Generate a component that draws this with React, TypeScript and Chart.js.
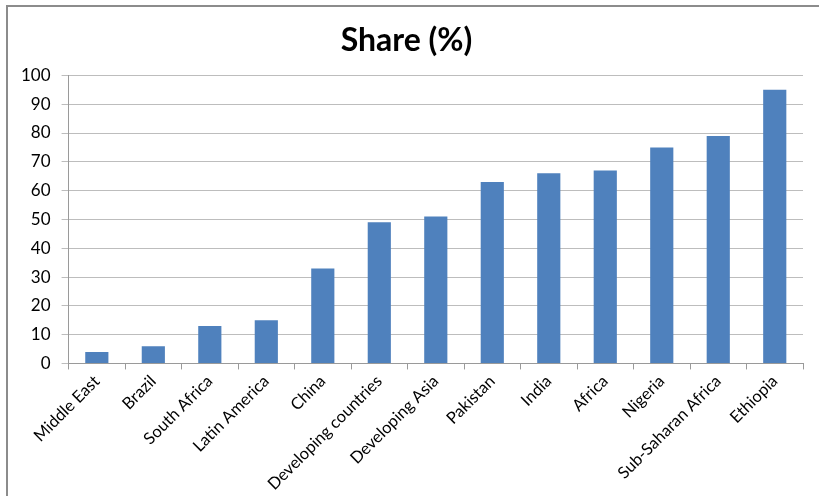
import React, { useEffect, useRef } from "react";
import { Chart, registerables } from "chart.js";

Chart.register(...registerables);

const categories: string[] = [
  "Middle East",
  "Brazil",
  "South Africa",
  "Latin America",
  "China",
  "Developing countries",
  "Developing Asia",
  "Pakistan",
  "India",
  "Africa",
  "Nigeria",
  "Sub-Saharan Africa",
  "Ethiopia",
];

const shareValues: number[] = [4, 6, 13, 15, 33, 49, 51, 63, 66, 67, 75, 79, 95];

const chartTitle = "Share (%)";
const yMin = 0;
const yMax = 100;
const yStep = 10;

const FONT = "Lato, 'Open Sans', sans-serif";

export default function App() {
  const canvasRef = useRef<HTMLCanvasElement | null>(null);

  useEffect(() => {
    document.body.style.margin = "0";
    const ctx = canvasRef.current;
    if (!ctx) return;
    const chart = new Chart(ctx, {
      type: "bar",
      data: {
        labels: categories,
        datasets: [
          {
            label: chartTitle,
            data: shareValues,
            backgroundColor: "#4F81BD",
            borderWidth: 0,
            categoryPercentage: 1,
            barPercentage: 0.41,
          },
        ],
      },
      options: {
        animation: false,
        responsive: false,
        maintainAspectRatio: false,
        layout: { padding: { left: 10, right: 16, top: 12, bottom: 0 } },
        plugins: {
          legend: { display: false },
          tooltip: { enabled: false },
          title: {
            display: true,
            text: chartTitle,
            color: "#000",
            font: { family: FONT, size: 32, weight: "bold" },
            padding: { top: 9, bottom: 16 },
          },
        },
        scales: {
          x: {
            grid: {
              display: true,
              drawOnChartArea: false,
              drawTicks: true,
              tickLength: 6,
              color: "#9a9a9a",
              offset: true,
            },
            border: { display: true, color: "#9a9a9a", width: 1 },
            ticks: {
              color: "#000",
              font: { family: FONT, size: 16.5 },
              maxRotation: 45,
              minRotation: 45,
              autoSkip: false,
              padding: 2,
            },
          },
          y: {
            min: yMin,
            max: yMax,
            grid: {
              color: "#bdbdbd",
              lineWidth: 1,
              drawTicks: true,
              tickLength: 7,
            },
            border: { display: true, color: "#9a9a9a", width: 1 },
            ticks: {
              stepSize: yStep,
              color: "#000",
              font: { family: FONT, size: 17 },
              padding: 11,
            },
          },
        },
      },
    });
    return () => chart.destroy();
  }, []);

  return (
    <div
      style={{
        position: "fixed",
        left: 0,
        top: 0,
        width: 819,
        height: 496,
        overflow: "hidden",
        background: "#fff",
      }}
    >
      <div
        style={{
          position: "absolute",
          left: 6,
          top: 5,
          width: 900,
          height: 600,
          border: "2px solid #8c8c8c",
          boxSizing: "border-box",
        }}
      />
      <canvas
        ref={canvasRef}
        width={819}
        height={496}
        style={{ position: "absolute", left: 0, top: 0, width: 819, height: 496 }}
      />
    </div>
  );
}
